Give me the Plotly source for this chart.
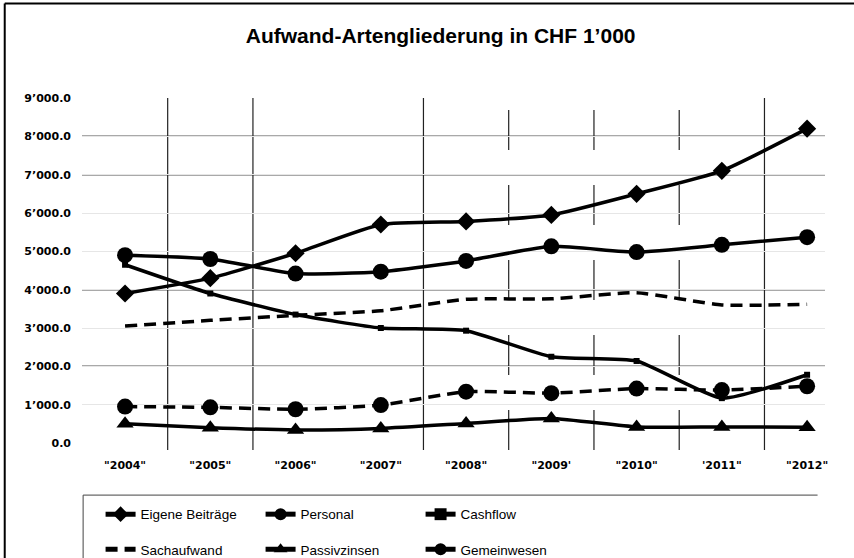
import plotly.graph_objects as go

title = "Aufwand-Artengliederung in CHF 1’000"
years = ['"2004"', '"2005"', '"2006"', '"2007"', '"2008"', '"2009\'', '"2010"', '\'2011"', '"2012"']

eigene = [3900, 4300, 4950, 5700, 5780, 5950, 6500, 7100, 8200]
personal = [4900, 4800, 4420, 4470, 4750, 5130, 4980, 5170, 5370]
cashflow = [4650, 3900, 3350, 3000, 2930, 2250, 2140, 1170, 1780]
sachaufwand = [3050, 3200, 3330, 3450, 3750, 3760, 3920, 3600, 3620]
passivzinsen = [500, 400, 340, 380, 510, 640, 420, 420, 410]
gemeinwesen = [950, 930, 880, 990, 1340, 1300, 1420, 1380, 1480]

y_ticks = [0, 1000, 2000, 3000, 4000, 5000, 6000, 7000, 8000, 9000]
y_labels = ["0.0", "1’000.0", "2’000.0", "3’000.0", "4’000.0", "5’000.0",
            "6’000.0", "7’000.0", "8’000.0", "9’000.0"]
dark_grid = [2000, 4000, 7000, 8000]
solid_dividers = [0.5, 1.5, 3.5, 7.5]
dashed_dividers = [4.5, 5.5, 6.5]

xs = list(range(len(years)))

fig = go.Figure()

def add(name, vals, symbol, size, dash, legend):
    fig.add_trace(go.Scatter(
        x=xs, y=vals, name=name, mode="lines+markers" if symbol else "lines",
        line=dict(color="black", width=3.5, dash=dash, shape="spline", smoothing=0.5),
        marker=dict(symbol=symbol or "circle", size=size, color="black"),
        legend=legend, cliponaxis=False,
    ))

add("Eigene Beiträge", eigene, "diamond", 14, "solid", "legend")
add("Personal", personal, "circle", 16, "solid", "legend")
add("Cashflow", cashflow, "square", 6, "solid", "legend")
add("Sachaufwand", sachaufwand, None, 0, "12px,7px", "legend2")
add("Passivzinsen", passivzinsen, "triangle-up", 15, "solid", "legend2")
add("Gemeinwesen", gemeinwesen, "circle", 16, "12px,7px", "legend2")

shapes = []
for v in dark_grid:
    shapes.append(dict(type="line", xref="paper", yref="y", x0=0, x1=1, y0=v, y1=v,
                       line=dict(color="#555555", width=1.5), layer="below"))
for v in solid_dividers:
    shapes.append(dict(type="line", xref="x", yref="paper", x0=v, x1=v, y0=-0.02, y1=1,
                       line=dict(color="#222222", width=1.2), layer="below"))
for v in dashed_dividers:
    shapes.append(dict(type="line", xref="x", yref="paper", x0=v, x1=v, y0=-0.02, y1=1,
                       line=dict(color="#222222", width=1.2, dash="40px,35px"), layer="below"))
# outer frame (cropped) and legend frame (cropped)
shapes.append(dict(type="line", xref="paper", yref="paper", x0=-0.104, x1=1.05, y0=1.274, y1=1.274,
                   line=dict(color="black", width=2)))
shapes.append(dict(type="line", xref="paper", yref="paper", x0=-0.104, x1=-0.104, y0=1.274, y1=-0.35,
                   line=dict(color="black", width=2)))
shapes.append(dict(type="line", xref="paper", yref="paper", x0=0.0015, x1=0.99, y0=-0.151, y1=-0.151,
                   line=dict(color="#444444", width=1)))
shapes.append(dict(type="line", xref="paper", yref="paper", x0=0.0015, x1=0.0015, y0=-0.151, y1=-0.35,
                   line=dict(color="#444444", width=1)))

tick_font = dict(family="DejaVu Sans", size=11, color="black", weight="bold")
legend_font = dict(family="Liberation Sans", size=13.5, color="black")

fig.update_layout(
    width=854, height=558,
    margin=dict(l=82, r=29, t=98, b=115, autoexpand=False),
    paper_bgcolor="white", plot_bgcolor="white",
    title=dict(text=title, x=0.516, xref="container", y=0.937, yref="container",
               xanchor="center", yanchor="middle",
               font=dict(family="Liberation Sans", size=21, color="black", weight="bold")),
    xaxis=dict(range=[-0.505, 8.21], tickvals=xs, ticktext=years, showgrid=False,
               zeroline=False, showline=False, ticks="", tickfont=tick_font,
               ticklabelstandoff=14, fixedrange=True),
    yaxis=dict(range=[0, 9000], tickvals=y_ticks, ticktext=y_labels, showgrid=True,
               gridcolor="#e6e6e6", gridwidth=1, zeroline=False, showline=False,
               ticks="", tickfont=tick_font, ticklabelstandoff=10, fixedrange=True),
    shapes=shapes,
    showlegend=True,
    legend=dict(orientation="h", x=0.025, y=-0.162, xanchor="left", yanchor="top",
                entrywidth=115, entrywidthmode="pixels", font=legend_font,
                bgcolor="rgba(0,0,0,0)", itemsizing="constant"),
    legend2=dict(orientation="h", x=0.025, y=-0.264, xanchor="left", yanchor="top",
                 entrywidth=115, entrywidthmode="pixels", font=legend_font,
                 bgcolor="rgba(0,0,0,0)", itemsizing="constant"),
)

fig.write_html("out.html", config={"displayModeBar": False},
               post_script="document.body.style.margin='0';")
